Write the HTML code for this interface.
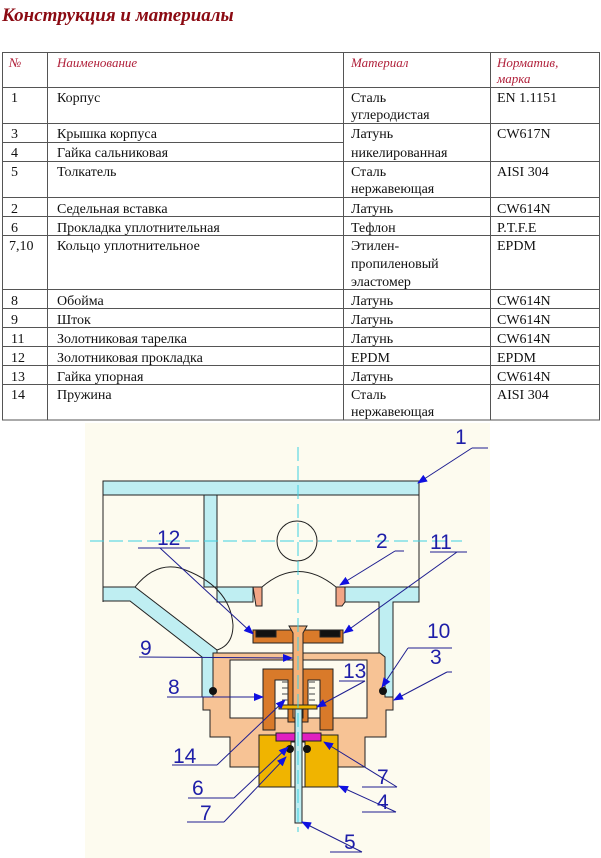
<!DOCTYPE html>
<html><head><meta charset="utf-8"><style>
html,body{margin:0;padding:0;background:#fff;width:601px;height:858px;overflow:hidden}
svg{display:block}
.t{font-family:"Liberation Serif",serif;font-size:14px;fill:#111}
.h{font-family:"Liberation Serif",serif;font-size:13px;font-style:italic;fill:#b0203a}
.l{font-family:"Liberation Sans",sans-serif;font-size:21px;fill:#1e1ea8}
</style></head><body>
<svg width="601" height="858" viewBox="0 0 601 858" xmlns="http://www.w3.org/2000/svg">
<text x="2" y="21" style="font-family:'Liberation Serif',serif;font-size:19px;font-weight:bold;font-style:italic;fill:#8b0a12">Конструкция и материалы</text>
<g stroke="#555" stroke-width="1" fill="none">
<rect x="2.5" y="52.5" width="597" height="367.5"/>
<line x1="47.5" y1="52" x2="47.5" y2="420"/>
<line x1="343.5" y1="52" x2="343.5" y2="420"/>
<line x1="490.5" y1="52" x2="490.5" y2="420"/>
<line x1="2" y1="87.5" x2="600" y2="87.5"/>
<line x1="2" y1="123.5" x2="600" y2="123.5"/>
<line x1="2" y1="142.5" x2="343" y2="142.5"/>
<line x1="2" y1="161.5" x2="600" y2="161.5"/>
<line x1="2" y1="197.5" x2="600" y2="197.5"/>
<line x1="2" y1="216.5" x2="600" y2="216.5"/>
<line x1="2" y1="235.5" x2="600" y2="235.5"/>
<line x1="2" y1="289.5" x2="600" y2="289.5"/>
<line x1="2" y1="308.5" x2="600" y2="308.5"/>
<line x1="2" y1="327.5" x2="600" y2="327.5"/>
<line x1="2" y1="346.5" x2="600" y2="346.5"/>
<line x1="2" y1="365.5" x2="600" y2="365.5"/>
<line x1="2" y1="384.5" x2="600" y2="384.5"/>
</g>
<text class="h" x="9" y="67">№</text>
<text class="h" x="57" y="67">Наименование</text>
<text class="h" x="351" y="67">Материал</text>
<text class="h" x="497" y="67">Норматив,</text>
<text class="h" x="497" y="83">марка</text>
<g class="t">
<text x="11" y="102">1</text><text x="57" y="102">Корпус</text><text x="351" y="102">Сталь</text><text x="351" y="119">углеродистая</text><text x="497" y="102">EN 1.1151</text>
<text x="11" y="138">3</text><text x="57" y="138">Крышка корпуса</text><text x="351" y="138">Латунь</text><text x="351" y="157">никелированная</text><text x="497" y="138">CW617N</text>
<text x="11" y="157">4</text><text x="57" y="157">Гайка сальниковая</text>
<text x="11" y="176">5</text><text x="57" y="176">Толкатель</text><text x="351" y="176">Сталь</text><text x="351" y="193">нержавеющая</text><text x="497" y="176">AISI 304</text>
<text x="11" y="213">2</text><text x="57" y="213">Седельная вставка</text><text x="351" y="213">Латунь</text><text x="497" y="213">CW614N</text>
<text x="11" y="232">6</text><text x="57" y="232">Прокладка уплотнительная</text><text x="351" y="232">Тефлон</text><text x="497" y="232">P.T.F.E</text>
<text x="9" y="250">7,10</text><text x="57" y="250">Кольцо уплотнительное</text><text x="351" y="250">Этилен-</text><text x="351" y="268">пропиленовый</text><text x="351" y="286">эластомер</text><text x="497" y="250">EPDM</text>
<text x="11" y="305">8</text><text x="57" y="305">Обойма</text><text x="351" y="305">Латунь</text><text x="497" y="305">CW614N</text>
<text x="11" y="324">9</text><text x="57" y="324">Шток</text><text x="351" y="324">Латунь</text><text x="497" y="324">CW614N</text>
<text x="11" y="343">11</text><text x="57" y="343">Золотниковая тарелка</text><text x="351" y="343">Латунь</text><text x="497" y="343">CW614N</text>
<text x="11" y="362">12</text><text x="57" y="362">Золотниковая прокладка</text><text x="351" y="362">EPDM</text><text x="497" y="362">EPDM</text>
<text x="11" y="381">13</text><text x="57" y="381">Гайка упорная</text><text x="351" y="381">Латунь</text><text x="497" y="381">CW614N</text>
<text x="11" y="399">14</text><text x="57" y="399">Пружина</text><text x="351" y="399">Сталь</text><text x="351" y="416">нержавеющая</text><text x="497" y="399">AISI 304</text>
</g>
<rect x="85" y="423" width="405" height="435" fill="#fdfbef"/>
<defs><marker id="a" markerWidth="10" markerHeight="8" refX="9" refY="4" orient="auto" markerUnits="userSpaceOnUse"><path d="M0,0 L10,4 L0,8z" fill="#1010e0"/></marker></defs>
<g stroke="#222" stroke-width="1">
<rect x="103" y="481" width="316" height="14" fill="#bfeef2"/>
<path d="M204,495 H217 V587 H204z" fill="#bfeef2"/>
<line x1="103" y1="495" x2="103" y2="602" fill="none"/>
<line x1="419" y1="495" x2="419" y2="602" fill="none"/>
<!-- left bar + diagonal pipe + wall -->
<path d="M103,587 H135 L217,650 V653 H213 V697 H202 V657 L130,601 H103z" fill="#bfeef2"/>
<path d="M217,587 H253 V602 H217z" fill="#bfeef2"/>
<path d="M345,587 H419 V602 H393 V697 H379 V602 H345z" fill="#bfeef2"/>
<circle cx="297" cy="541" r="20" fill="none"/>
<path d="M135,587 Q155,562 180,568 Q230,585 233,625 Q233,645 217,650" fill="none"/>
<path d="M262,587 Q298,556 336,587" fill="none"/>
<path d="M253,587 H262 V606 H256z M336,587 H345 V602 L342,606 H336z" fill="#f2a585"/>
<!-- body 3 -->
<path d="M213,653 H380 L385,657 V697 H393 V710 H386 V737 H365 V767 H330 V740 H266 V767 H230 V737 H210 V710 H203 V697 H213z" fill="#f7c395"/>
<rect x="230" y="660" width="137" height="58" fill="#fdfbef"/>
<rect x="259" y="735" width="79" height="52" fill="#f0b400"/>
<rect x="291" y="742" width="14" height="45" fill="#fdfbef"/>
<rect x="276" y="733" width="45" height="8" fill="#e020c0"/>
<path d="M263,669 H333 V730 H320 V680 H308 V722 H288 V680 H275 V730 H263z" fill="#d97a2a"/>
<rect x="253" y="630" width="90" height="13" fill="#d97a2a"/>
<rect x="256" y="630" width="20" height="7" fill="#111"/>
<rect x="320" y="630" width="20" height="7" fill="#111"/>
<path d="M289,626 H307 L303,633 V718 H293 V633z" fill="#f5b27a"/>
<rect x="295" y="707" width="7" height="116" fill="#bfeef2"/>
<rect x="279" y="705" width="38" height="4" fill="#f0b400"/>
</g>
<g fill="#111"><circle cx="213" cy="691" r="4"/><circle cx="383" cy="691" r="4"/><circle cx="290" cy="749" r="4"/><circle cx="307" cy="749" r="4"/></g>
<g stroke="#444" stroke-width="1" fill="none"><path d="M282,682h6M282,688h6M282,694h6M282,700h6M309,682h6M309,688h6M309,694h6M309,700h6"/></g>
<g stroke="#40d0e0" stroke-width="1" stroke-dasharray="14,5" fill="none">
<line x1="298" y1="447" x2="298" y2="832"/><line x1="90" y1="541" x2="462" y2="541"/></g>
<g stroke="#1e1e90" stroke-width="1" fill="none" marker-end="url(#a)">
<path d="M472,448 L418,483"/>
<path d="M160,548 L253,634"/><path d="M395,551 L340,585"/><path d="M457,552 L344,633"/>
<path d="M408,648 L382,687"/><path d="M447,672 L394,700"/>
<path d="M139,657 L292,658"/><path d="M167,697 L263,697"/>
<path d="M365,681 L317,707"/><path d="M217,765 L285,700"/>
<path d="M234,798 L288,747"/><path d="M224,822 L286,757"/>
<path d="M397,787 L324,742"/><path d="M396,812 L339,786"/><path d="M362,852 L302,822"/>
</g>
<g stroke="#1e1e90" stroke-width="1">
<line x1="472" y1="448" x2="488" y2="448"/><line x1="138" y1="548" x2="190" y2="548"/><line x1="395" y1="551" x2="404" y2="551"/><line x1="430" y1="552" x2="467" y2="552"/>
<line x1="408" y1="648" x2="452" y2="648"/><line x1="447" y1="672" x2="452" y2="672"/><line x1="339" y1="681" x2="365" y2="681"/>
<line x1="172" y1="765" x2="217" y2="765"/><line x1="188" y1="798" x2="234" y2="798"/><line x1="187" y1="822" x2="224" y2="822"/>
<line x1="362" y1="787" x2="397" y2="787"/><line x1="362" y1="812" x2="396" y2="812"/><line x1="330" y1="852" x2="362" y2="852"/>
</g>
<g class="l">
<text x="455" y="444">1</text><text x="157" y="545">12</text><text x="376" y="548">2</text><text x="430" y="549">11</text>
<text x="427" y="638">10</text><text x="430" y="664">3</text><text x="140" y="655">9</text><text x="168" y="694">8</text>
<text x="343" y="678">13</text><text x="173" y="763">14</text><text x="192" y="795">6</text><text x="200" y="820">7</text>
<text x="377" y="784">7</text><text x="377" y="809">4</text><text x="344" y="849">5</text>
</g>
</svg>
</body></html>
